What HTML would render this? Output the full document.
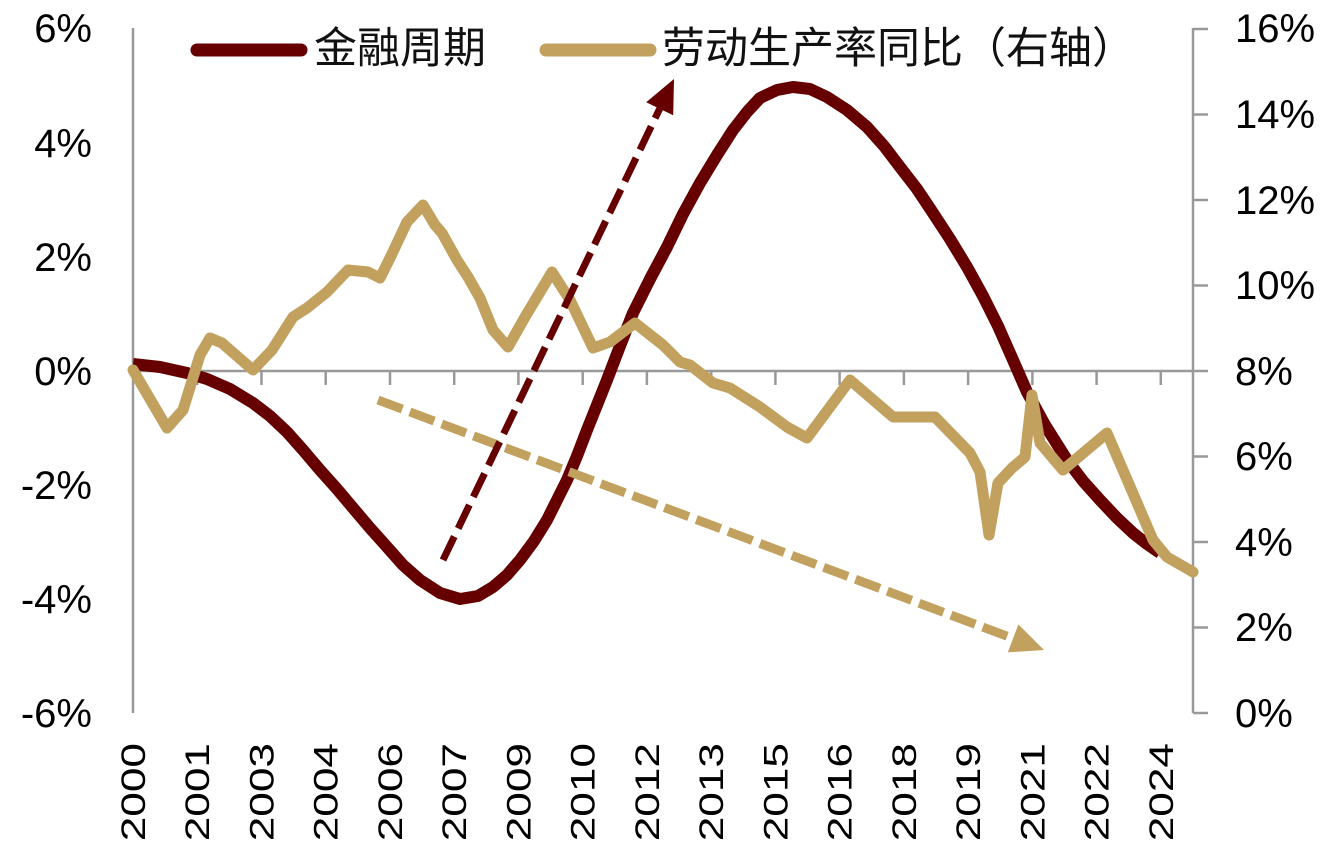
<!DOCTYPE html>
<html>
<head>
<meta charset="utf-8">
<style>
  html, body { margin: 0; padding: 0; background: #ffffff; }
  svg { display: block; }
  .ax { font-family: "Liberation Sans", Arial, sans-serif; fill: #000; }
  .lg { font-family: "Liberation Sans", "Noto Sans CJK SC", "WenQuanYi Zen Hei", sans-serif; fill: #111; }
</style>
</head>
<body>
<svg width="1329" height="855" viewBox="0 0 1329 855" xmlns="http://www.w3.org/2000/svg">
  <rect x="0" y="0" width="1329" height="855" fill="#ffffff"/>

  <!-- Axes -->
  <g stroke="#999999" stroke-width="2.5" fill="none">
    <line x1="133" y1="28" x2="133" y2="713"/>
    <line x1="1193" y1="28" x2="1193" y2="713"/>
    <line x1="133" y1="371" x2="1193" y2="371"/>
    <!-- right axis ticks -->
    <line x1="1193" y1="29" x2="1208" y2="29"/>
    <line x1="1193" y1="114.5" x2="1208" y2="114.5"/>
    <line x1="1193" y1="200" x2="1208" y2="200"/>
    <line x1="1193" y1="285.5" x2="1208" y2="285.5"/>
    <line x1="1193" y1="371" x2="1208" y2="371"/>
    <line x1="1193" y1="456.5" x2="1208" y2="456.5"/>
    <line x1="1193" y1="542" x2="1208" y2="542"/>
    <line x1="1193" y1="627.5" x2="1208" y2="627.5"/>
    <line x1="1193" y1="713" x2="1208" y2="713"/>
    <!-- category ticks on 0% line -->
    <line x1="197.2" y1="371" x2="197.2" y2="385"/>
    <line x1="261.5" y1="371" x2="261.5" y2="385"/>
    <line x1="325.7" y1="371" x2="325.7" y2="385"/>
    <line x1="390" y1="371" x2="390" y2="385"/>
    <line x1="454.2" y1="371" x2="454.2" y2="385"/>
    <line x1="518.4" y1="371" x2="518.4" y2="385"/>
    <line x1="582.7" y1="371" x2="582.7" y2="385"/>
    <line x1="646.9" y1="371" x2="646.9" y2="385"/>
    <line x1="711.2" y1="371" x2="711.2" y2="385"/>
    <line x1="775.4" y1="371" x2="775.4" y2="385"/>
    <line x1="839.6" y1="371" x2="839.6" y2="385"/>
    <line x1="903.9" y1="371" x2="903.9" y2="385"/>
    <line x1="968.1" y1="371" x2="968.1" y2="385"/>
    <line x1="1032.4" y1="371" x2="1032.4" y2="385"/>
    <line x1="1096.6" y1="371" x2="1096.6" y2="385"/>
    <line x1="1160.8" y1="371" x2="1160.8" y2="385"/>
  </g>

  <!-- Left axis labels -->
  <g class="ax" font-size="40" text-anchor="end">
    <text x="92" y="42">6%</text>
    <text x="92" y="157">4%</text>
    <text x="92" y="271">2%</text>
    <text x="92" y="385">0%</text>
    <text x="92" y="499">-2%</text>
    <text x="92" y="613">-4%</text>
    <text x="92" y="727">-6%</text>
  </g>

  <!-- Right axis labels -->
  <g class="ax" font-size="40" text-anchor="start">
    <text x="1235" y="42">16%</text>
    <text x="1235" y="128">14%</text>
    <text x="1235" y="214">12%</text>
    <text x="1235" y="299">10%</text>
    <text x="1235" y="385">8%</text>
    <text x="1235" y="470">6%</text>
    <text x="1235" y="556">4%</text>
    <text x="1235" y="641">2%</text>
    <text x="1235" y="727">0%</text>
  </g>

  <!-- X axis labels (rotated) -->
  <g class="ax" font-size="34" text-anchor="end">
    <text transform="translate(145,743) rotate(-90) scale(1.3,1)">2000</text>
    <text transform="translate(209.2,743) rotate(-90) scale(1.3,1)">2001</text>
    <text transform="translate(273.5,743) rotate(-90) scale(1.3,1)">2003</text>
    <text transform="translate(337.7,743) rotate(-90) scale(1.3,1)">2004</text>
    <text transform="translate(402,743) rotate(-90) scale(1.3,1)">2006</text>
    <text transform="translate(466.2,743) rotate(-90) scale(1.3,1)">2007</text>
    <text transform="translate(530.4,743) rotate(-90) scale(1.3,1)">2009</text>
    <text transform="translate(594.7,743) rotate(-90) scale(1.3,1)">2010</text>
    <text transform="translate(658.9,743) rotate(-90) scale(1.3,1)">2012</text>
    <text transform="translate(723.2,743) rotate(-90) scale(1.3,1)">2013</text>
    <text transform="translate(787.4,743) rotate(-90) scale(1.3,1)">2015</text>
    <text transform="translate(851.6,743) rotate(-90) scale(1.3,1)">2016</text>
    <text transform="translate(915.9,743) rotate(-90) scale(1.3,1)">2018</text>
    <text transform="translate(980.1,743) rotate(-90) scale(1.3,1)">2019</text>
    <text transform="translate(1044.4,743) rotate(-90) scale(1.3,1)">2021</text>
    <text transform="translate(1108.6,743) rotate(-90) scale(1.3,1)">2022</text>
    <text transform="translate(1172.8,743) rotate(-90) scale(1.3,1)">2024</text>
  </g>

  <!-- Financial cycle (dark red) -->
  <polyline fill="none" stroke="#660000" stroke-width="12" stroke-linejoin="round" stroke-linecap="butt"
    points="133,364 160,367 187,373 207,379 230,389 253,403 270,416 287,432 303,450 320,470 337,489 353,508 370,528 387,547 403,565 420,580 440,593 460,599 478,596 493,587 507,575 520,560 534,541 547,520 557,500 567,480 577,456 587,430 597,405 607,380 620,346 633,313 650,279 667,247 683,214 700,183 717,155 733,130 747,112 760,98 777,90 793,87 810,89 827,97 847,110 867,127 884,146 900,167 917,189 933,213 950,239 967,267 983,296 998,326 1013,360 1027,392 1045,425 1067,460 1083,481 1100,500 1117,518 1133,533 1147,544 1160,553"/>

  <!-- Labor productivity YoY (gold) -->
  <polyline fill="none" stroke="#C2A05E" stroke-width="11" stroke-linejoin="round" stroke-linecap="round"
    points="133,370 167,428 183,410 200,355 210,338 222,343 253,370 272,350 293,317 307,308 327,292 348,270 368,272 380,278 390,258 407,222 423,205 435,225 442,233 457,260 468,277 480,298 493,330 508,347 525,317 552,272 570,300 593,348 610,342 635,323 663,345 680,362 690,365 713,383 730,388 760,407 787,427 807,438 850,380 893,417 935,417 970,453 980,472 989,535 998,483 1012,468 1025,457 1032,395 1040,443 1063,470 1107,433 1153,540 1167,557 1193,572"/>

  <!-- Gold dashed trend arrow -->
  <line x1="378" y1="400" x2="1013" y2="638.4" stroke="#C2A05E" stroke-width="9" stroke-dasharray="26 8"/>
  <polygon points="1044,650 1018.4,624.4 1007.8,652.4" fill="#C2A05E"/>

  <!-- Dark red dashed trend arrow -->
  <line x1="443" y1="560" x2="659.7" y2="108.7" stroke="#660000" stroke-width="7" stroke-dasharray="26 9"/>
  <polygon points="674,79 673.2,115.2 646.2,102.2" fill="#660000"/>

  <!-- Legend -->
  <line x1="197" y1="50" x2="301" y2="50" stroke="#660000" stroke-width="13" stroke-linecap="round"/>
  <text class="lg" x="314" y="63" font-size="43">金融周期</text>
  <line x1="546" y1="50" x2="650" y2="50" stroke="#C2A05E" stroke-width="13" stroke-linecap="round"/>
  <text class="lg" x="662" y="63" font-size="43">劳动生产率同比（右轴）</text>
</svg>
</body>
</html>
